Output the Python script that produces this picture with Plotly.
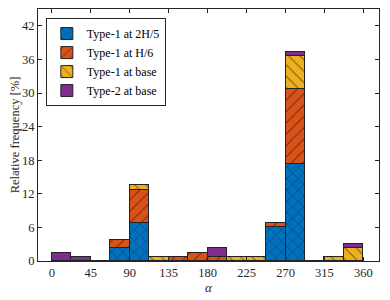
import plotly.graph_objects as go

bin_centers = [11.25 + 22.5 * i for i in range(16)]
type1_2h5 = [0, 0, 0, 2.25, 6.75, 0, 0, 0, 0, 0, 0, 6.0, 17.25, 0, 0, 0]
type1_h6 = [0, 0, 0, 1.5, 6.0, 0, 0.75, 1.5, 0.75, 0, 0, 0.75, 13.4, 0, 0, 0]
type1_base = [0, 0, 0, 0, 0.75, 0.75, 0, 0, 0, 0.75, 0.75, 0, 6.0, 0, 0.75, 2.25]
type2_base = [1.5, 0.75, 0, 0, 0, 0, 0, 0, 1.5, 0, 0, 0, 0.75, 0, 0, 0.75]
x_ticks = [0, 45, 90, 135, 180, 225, 270, 315, 360]
y_ticks = [0, 6, 12, 18, 24, 30, 36, 42]

series = [
    ("Type-1 at 2H/5", type1_2h5, "#0072BD", "x"),
    ("Type-1 at H/6", type1_h6, "#D95319", "/"),
    ("Type-1 at base", type1_base, "#EDB120", "\\"),
    ("Type-2 at base", type2_base, "#7E2F8E", ""),
]

fig = go.Figure()
for name, vals, col, shp in series:
    fig.add_trace(go.Bar(
        x=bin_centers, y=vals, width=22.5, name=name,
        marker=dict(color=col, line=dict(color="#222222", width=1),
                    pattern=dict(shape=shp, fgcolor="black", size=8, solidity=0.12)),
    ))

fam = "Liberation Serif, Times New Roman, serif"
font = dict(family=fam, size=12.5, color="#262626")
axis_common = dict(showline=True, linecolor="#262626", linewidth=1, mirror="ticks",
                   ticks="inside", ticklen=4, tickcolor="#262626", showgrid=False,
                   zeroline=False, tickfont=font, automargin=False)
fig.update_layout(
    width=382, height=292,
    margin=dict(l=30, r=11, t=1, b=39),
    barmode="stack", bargap=0,
    plot_bgcolor="white", paper_bgcolor="white",
    font=font,
    xaxis=dict(range=[-16, 378], tickvals=x_ticks,
               title=dict(text="<i>α</i>", font=dict(family=fam, size=13, color="#262626"), standoff=0),
               **axis_common),
    yaxis=dict(range=[0, 45], tickvals=y_ticks,
               title=dict(text="Relative frequency [%]", font=font, standoff=4), **axis_common),
    legend=dict(x=0.023, y=0.964, xanchor="left", yanchor="top", traceorder="normal",
                bordercolor="#262626", borderwidth=1, bgcolor="white",
                font=dict(family=fam, size=12, color="black"),
                tracegroupgap=0, itemwidth=30),
    showlegend=True,
)
fig.write_html("out.html")
